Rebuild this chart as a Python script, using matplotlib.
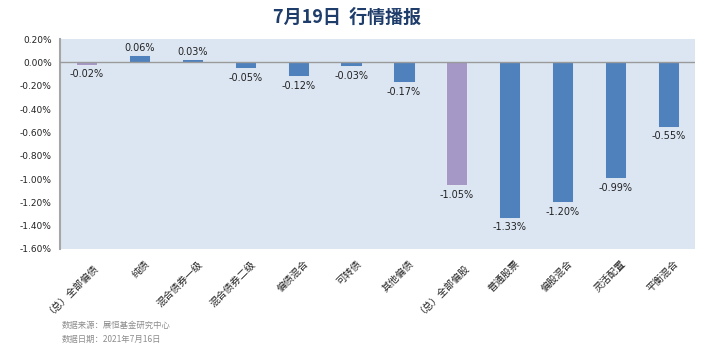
import matplotlib
matplotlib.use("Agg")
import matplotlib.pyplot as plt
from matplotlib.ticker import FuncFormatter
from matplotlib.transforms import ScaledTranslation

plt.rcParams['font.family'] = ['Noto Sans CJK SC', 'DejaVu Sans']

categories = ["（总）全部偏债", "纯债", "混合债券一级", "混合债券二级", "偏债混合", "可转债",
              "其他偏债", "（总）全部偏股", "普通股票", "偏股混合", "灵活配置", "平衡混合"]
values = [-0.02, 0.06, 0.03, -0.05, -0.12, -0.03, -0.17, -1.05, -1.33, -1.20, -0.99, -0.55]
is_total = [True, False, False, False, False, False, False, True, False, False, False, False]
yticks = [0.2, 0.0, -0.2, -0.4, -0.6, -0.8, -1.0, -1.2, -1.4, -1.6]

blue = "#4F81BD"
purple = "#A597C6"

fig = plt.figure(figsize=(7.19, 3.55), dpi=100)
ax = fig.add_axes([0.0834, 0.2986, 0.8832, 0.5914])
ax.set_facecolor("#DCE6F2")

x = list(range(len(categories)))
colors = [purple if t else blue for t in is_total]
bars = ax.bar(x, values, width=0.4, color=colors, edgecolor="#E8EEF6", linewidth=0.6, zorder=2)
ax.axhline(0, color="#9A9A9A", linewidth=1.0, zorder=3)

for xi, v in zip(x, values):
    if v >= 0:
        ax.text(xi, v + 0.02, f"{v:.2f}%", ha="center", va="bottom", fontsize=7, color="#222222",
                family="DejaVu Sans")
    else:
        ax.text(xi, v - 0.04, f"{v:.2f}%", ha="center", va="top", fontsize=7, color="#222222",
                family="DejaVu Sans")

ax.set_ylim(-1.6, 0.2)
ax.set_xlim(-0.5, len(categories) - 0.5)
ax.set_yticks(yticks)
ax.yaxis.set_major_formatter(FuncFormatter(lambda v, p: f"{v:.2f}%"))
for lab in ax.get_yticklabels():
    lab.set_family("DejaVu Sans")
ax.tick_params(axis="y", labelsize=6.5, length=0, pad=6, labelcolor="#222222")
ax.set_xticks(x)
ax.set_xticklabels(categories, rotation=45, ha="right", rotation_mode="anchor", fontsize=7.2, color="#222222")
ax.tick_params(axis="x", length=0, pad=7)
offset = ScaledTranslation(5 / 100, 0, fig.dpi_scale_trans)
for lab in ax.get_xticklabels():
    lab.set_transform(lab.get_transform() + offset)

for s in ["top", "right", "bottom"]:
    ax.spines[s].set_visible(False)
ax.spines["left"].set_color("#A6A6A6")
ax.spines["left"].set_linewidth(1.5)

fig.text(0.483, 0.952, "7月19日  行情播报", ha="center", va="center", fontsize=13,
         fontweight="bold", color="#1F3D6B")
fig.text(0.086, 0.083, "数据来源：展恒基金研究中心", ha="left", va="center", fontsize=6, color="#8C8C8C")
fig.text(0.086, 0.045, "数据日期：2021年7月16日", ha="left", va="center", fontsize=6, color="#8C8C8C")

fig.savefig("out.png", dpi=100)
